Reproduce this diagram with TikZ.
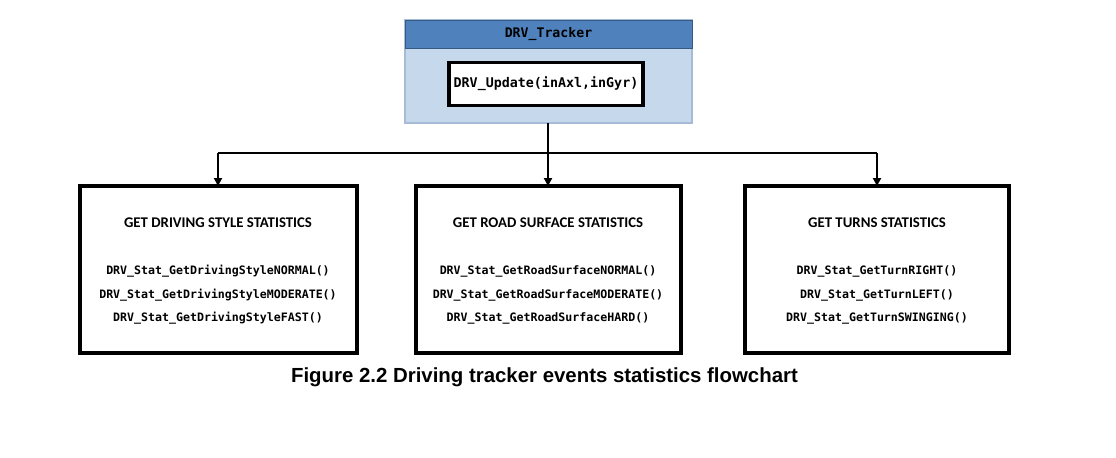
\documentclass[tikz,border=0pt]{standalone}
\usepackage{fontspec}
\setmainfont{Carlito}
\newfontfamily\codefont{DejaVu Sans Mono}
\newfontfamily\capfont{Liberation Sans}
\usetikzlibrary{arrows.meta,positioning}
\definecolor{hdrblue}{HTML}{4F81BD}
\definecolor{bodyblue}{HTML}{C6D9EC}
\definecolor{edgeblue}{HTML}{A6BCD6}
\tikzset{
  conn/.style={draw=black, line width=1.5pt},
  arr/.style={conn, -{Triangle[length=6pt,width=6pt]}},
  boxline/.style={line width=2.6pt},
  titletxt/.style={font=\bfseries\fontsize{11.1}{13}\selectfont, inner sep=0pt},
  codetxt/.style={font=\codefont\bfseries\fontsize{8.7}{10}\selectfont, inner sep=0pt},
}
\begin{document}
\begin{tikzpicture}[x=0.75pt,y=-0.75pt]
\useasboundingbox (0,0) rectangle (1116,457);
% tracker
\draw[edgeblue, fill=bodyblue, line width=0.8pt] (405,20) rectangle (692,123);
\node[draw=hdrblue!70!black, fill=hdrblue, line width=0.6pt, minimum width=287*0.75pt, minimum height=28*0.75pt, inner sep=0pt,
  font=\codefont\bfseries\fontsize{9.9}{11}\selectfont] (hdr) at (548.5,34) {DRV\_Tracker};
\node[draw=black, fill=white, boxline, minimum width=194*0.75pt, minimum height=43*0.75pt, inner sep=0pt,
  font=\codefont\bfseries\fontsize{10}{12}\selectfont] (upd) at (546,84) {DRV\_Update(inAxl,inGyr)};
\coordinate (trkb) at (548,123);
% boxes
\draw[boxline] (80,186) rectangle (357,353);
\draw[boxline] (416,186) rectangle (681,353);
\draw[boxline] (745,186) rectangle (1009,353);
\coordinate (b1) at (218,186);
\coordinate (b2) at (548,186);
\coordinate (b3) at (877,186);
\coordinate (j) at (548,153);
\coordinate (jl) at (218,153);
\coordinate (jr) at (877,153);
\draw[conn] (trkb) -- (j);
\draw[conn] (jl) -- (jr);
\draw[arr] (jl) -- (b1);
\draw[arr] (j) -- (b2);
\draw[arr] (jr) -- (b3);
% texts
\node[titletxt] (t1) at (218,223) {GET DRIVING STYLE STATISTICS};
\node[codetxt] (c11) at (218,271) {DRV\_Stat\_GetDrivingStyleNORMAL()};
\node[codetxt] (c12) at (218,295) {DRV\_Stat\_GetDrivingStyleMODERATE()};
\node[codetxt] (c13) at (218,318) {DRV\_Stat\_GetDrivingStyleFAST()};
\node[titletxt] (t2) at (548,223) {GET ROAD SURFACE STATISTICS};
\node[codetxt] (c21) at (548,271) {DRV\_Stat\_GetRoadSurfaceNORMAL()};
\node[codetxt] (c22) at (548,295) {DRV\_Stat\_GetRoadSurfaceMODERATE()};
\node[codetxt] (c23) at (548,318) {DRV\_Stat\_GetRoadSurfaceHARD()};
\node[titletxt] (t3) at (877,223) {GET TURNS STATISTICS};
\node[codetxt] (c31) at (877,271) {DRV\_Stat\_GetTurnRIGHT()};
\node[codetxt] (c32) at (877,295) {DRV\_Stat\_GetTurnLEFT()};
\node[codetxt] (c33) at (877,318) {DRV\_Stat\_GetTurnSWINGING()};
\node[font=\capfont\bfseries\fontsize{15.3}{17}\selectfont, inner sep=0pt] (cap) at (544.5,377) {Figure 2.2 Driving tracker events statistics flowchart};
\end{tikzpicture}
\end{document}
